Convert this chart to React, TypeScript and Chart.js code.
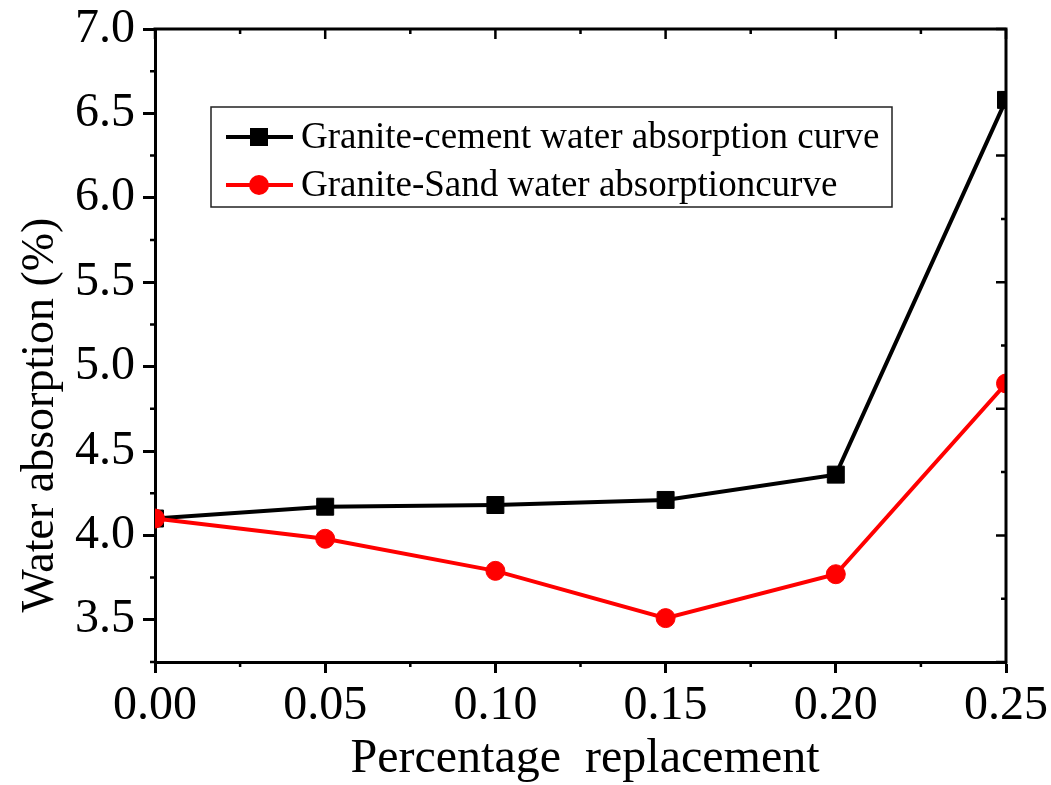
import { useEffect, useRef } from 'react';
import { Chart, registerables } from 'chart.js';

Chart.register(...registerables);

// Replacement fraction on the x axis
const replacement = [0, 0.05, 0.1, 0.15, 0.2, 0.25];
// Water absorption (%) for each mix
const cementAbsorption = [4.1, 4.17, 4.18, 4.21, 4.36, 6.58];
const sandAbsorption = [4.1, 3.98, 3.79, 3.51, 3.77, 4.9];

const seriesNames = [
  'Granite-cement water absorption curve',
  'Granite-Sand water absorptioncurve',
];

const xMajorTicks = [0, 0.05, 0.1, 0.15, 0.2, 0.25];
const xTickLabels = ['0.00', '0.05', '0.10', '0.15', '0.20', '0.25'];
const xMinorTicks = [0.025, 0.075, 0.125, 0.175, 0.225];

const yMajorTicks = [3.5, 4.0, 4.5, 5.0, 5.5, 6.0, 6.5, 7.0];
const yTickLabels = ['3.5', '4.0', '4.5', '5.0', '5.5', '6.0', '6.5', '7.0'];
const yMinorTicks = [3.25, 3.75, 4.25, 4.75, 5.25, 5.75, 6.25, 6.75];

// The mirrored right-hand axis is split into its own equal divisions
const rightAxisDivisions = 10;

const xTitle = 'Percentage  replacement';
const yTitle = 'Water absorption (%)';

const SERIF = '"Liberation Serif", "Times New Roman", serif';

const framePlugin = {
  id: 'frame',
  afterDraw(chart: any) {
    const { ctx, chartArea: a, scales } = chart;
    const xs = scales.x;
    const ys = scales.y;
    ctx.save();
    ctx.strokeStyle = '#000';
    ctx.lineCap = 'butt';
    ctx.lineWidth = 3;

    // top and right frame lines
    ctx.beginPath();
    ctx.moveTo(a.left - 1.5, a.top);
    ctx.lineTo(a.right + 1.5, a.top);
    ctx.moveTo(a.right, a.top);
    ctx.lineTo(a.right, a.bottom + 1.5);
    ctx.stroke();

    ctx.lineWidth = 2.5;
    ctx.beginPath();
    // minor ticks, outward on left and bottom
    yMinorTicks.forEach((v) => {
      const py = ys.getPixelForValue(v);
      ctx.moveTo(a.left - 5, py);
      ctx.lineTo(a.left, py);
    });
    ctx.moveTo(a.left - 5, a.bottom);
    ctx.lineTo(a.left, a.bottom);
    xMinorTicks.forEach((v) => {
      const px = xs.getPixelForValue(v);
      ctx.moveTo(px, a.bottom);
      ctx.lineTo(px, a.bottom + 5);
    });
    // inward ticks along the top
    xMajorTicks.forEach((v) => {
      const px = xs.getPixelForValue(v);
      ctx.moveTo(px, a.top);
      ctx.lineTo(px, a.top + 10);
    });
    xMinorTicks.forEach((v) => {
      const px = xs.getPixelForValue(v);
      ctx.moveTo(px, a.top);
      ctx.lineTo(px, a.top + 5);
    });
    // inward ticks along the right
    for (let i = 0; i <= rightAxisDivisions; i++) {
      const py = a.bottom - ((a.bottom - a.top) * i) / rightAxisDivisions;
      const len = i % 2 === 0 ? 10 : 5;
      ctx.moveTo(a.right - len, py);
      ctx.lineTo(a.right, py);
    }
    ctx.stroke();

    // axis titles
    ctx.fillStyle = '#000';
    ctx.font = `48px ${SERIF}`;
    ctx.textAlign = 'center';
    ctx.textBaseline = 'alphabetic';
    ctx.fillText(xTitle, 585, 772);

    ctx.save();
    ctx.translate(53, 415);
    ctx.rotate(-Math.PI / 2);
    ctx.font = `46px ${SERIF}`;
    ctx.fillText(yTitle, 0, 0);
    ctx.restore();

    // legend box
    const bx = 211;
    const by = 107;
    const bw = 681;
    const bh = 100;
    ctx.fillStyle = '#fff';
    ctx.fillRect(bx, by, bw, bh);
    ctx.strokeStyle = '#222';
    ctx.lineWidth = 1.5;
    ctx.strokeRect(bx, by, bw, bh);

    const rows = [
      { y: 137, color: '#000', style: 'rect' },
      { y: 185, color: '#ff0000', style: 'circle' },
    ];
    rows.forEach((r, i) => {
      ctx.strokeStyle = r.color;
      ctx.fillStyle = r.color;
      ctx.lineWidth = 4;
      ctx.beginPath();
      ctx.moveTo(226, r.y);
      ctx.lineTo(293, r.y);
      ctx.stroke();
      ctx.beginPath();
      if (r.style === 'rect') {
        ctx.rect(259 - 9, r.y - 9, 18, 18);
      } else {
        ctx.arc(259, r.y, 10, 0, Math.PI * 2);
      }
      ctx.fill();
      ctx.fillStyle = '#000';
      ctx.font = `37px ${SERIF}`;
      ctx.textAlign = 'left';
      ctx.textBaseline = 'middle';
      ctx.fillText(seriesNames[i], 301, r.y + 1);
    });
    ctx.restore();
  },
};

export default function App() {
  const canvasRef = useRef<HTMLCanvasElement | null>(null);

  useEffect(() => {
    const canvas = canvasRef.current;
    if (!canvas) return;
    const tickFont = { family: SERIF, size: 48 };
    const chart = new Chart(canvas, {
      type: 'line',
      data: {
        datasets: [
          {
            label: seriesNames[1],
            data: replacement.map((x, i) => ({ x, y: sandAbsorption[i] })),
            borderColor: '#ff0000',
            backgroundColor: '#ff0000',
            borderWidth: 4,
            pointStyle: 'circle',
            pointRadius: 9.5,
            pointBorderWidth: 1,
            pointBackgroundColor: '#ff0000',
            pointBorderColor: '#ff0000',
            tension: 0,
            clip: 0,
            order: 0,
          },
          {
            label: seriesNames[0],
            data: replacement.map((x, i) => ({ x, y: cementAbsorption[i] })),
            borderColor: '#000',
            backgroundColor: '#000',
            borderWidth: 4,
            pointStyle: 'rect',
            pointRadius: 12,
            pointBorderWidth: 1,
            pointBackgroundColor: '#000',
            pointBorderColor: '#000',
            tension: 0,
            clip: 0,
            order: 1,
          },
        ],
      },
      options: {
        responsive: false,
        animation: false,
        layout: { padding: { top: 29, right: 45, left: 0, bottom: 0 } },
        plugins: {
          legend: { display: false },
          tooltip: { enabled: false },
          title: { display: false },
        },
        scales: {
          x: {
            type: 'linear',
            min: 0,
            max: 0.25,
            afterBuildTicks: (s: any) => {
              s.ticks = xMajorTicks.map((value) => ({ value }));
            },
            afterFit: (s: any) => {
              s.height = 123;
              s.paddingLeft = 0;
              s.paddingRight = 0;
            },
            ticks: {
              font: tickFont,
              color: '#000',
              padding: 5,
              maxRotation: 0,
              autoSkip: false,
              callback: (_v: any, i: number) => xTickLabels[i],
            },
            grid: {
              display: true,
              drawOnChartArea: false,
              drawTicks: true,
              tickLength: 11,
              tickWidth: 3,
              tickColor: '#000',
            },
            border: { display: true, color: '#000', width: 3 },
          },
          y: {
            type: 'linear',
            min: 3.25,
            max: 7.0,
            afterBuildTicks: (s: any) => {
              s.ticks = yMajorTicks.map((value) => ({ value }));
            },
            afterFit: (s: any) => {
              s.width = 155;
              s.paddingTop = 0;
              s.paddingBottom = 0;
            },
            ticks: {
              font: tickFont,
              color: '#000',
              padding: 8,
              autoSkip: false,
              callback: (_v: any, i: number) => yTickLabels[i],
            },
            grid: {
              display: true,
              drawOnChartArea: false,
              drawTicks: true,
              tickLength: 12,
              tickWidth: 3,
              tickColor: '#000',
            },
            border: { display: true, color: '#000', width: 3 },
          },
        },
      },
      plugins: [framePlugin],
    });
    return () => chart.destroy();
  }, []);

  return (
    <div style={{ position: 'absolute', left: 0, top: 0, width: 1051, height: 785, background: '#fff' }}>
      <canvas ref={canvasRef} width={1051} height={785} style={{ display: 'block' }} />
    </div>
  );
}
